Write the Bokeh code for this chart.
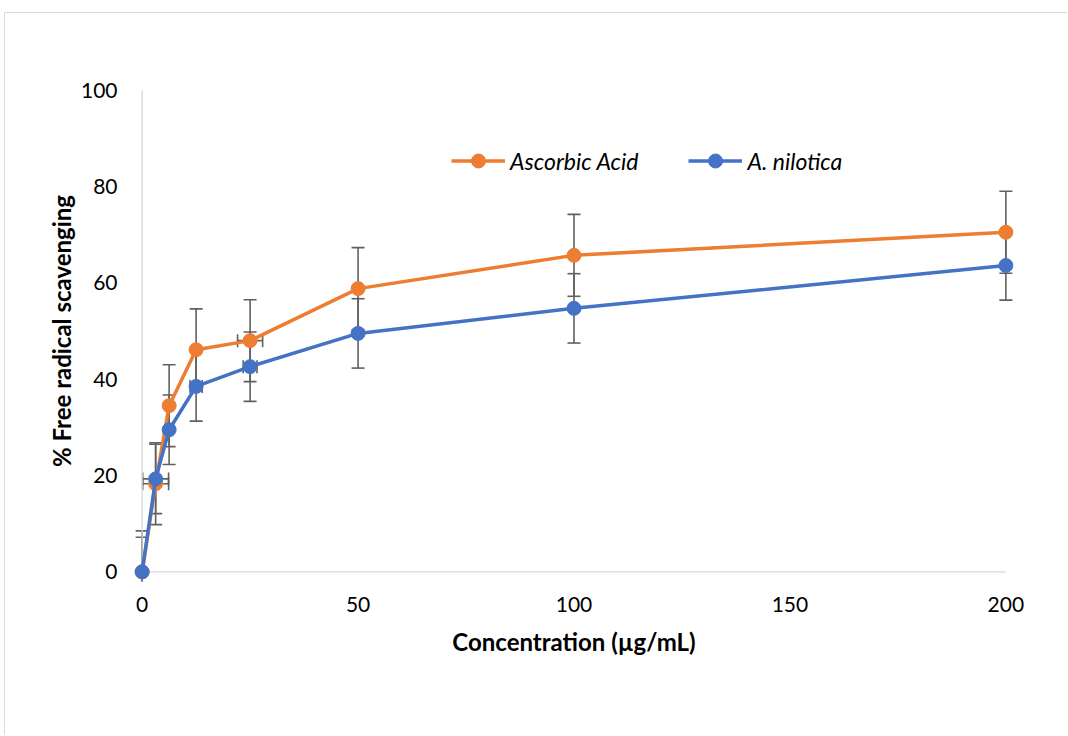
from bokeh.plotting import figure
from bokeh.models import Range1d, Whisker, ColumnDataSource, Legend, LegendItem, TeeHead, FixedTicker
from bokeh.embed import file_html
from bokeh.resources import INLINE

# ---- data ----
conc = [0, 3.125, 6.25, 12.5, 25, 50, 100, 200]
ascorbic = [0, 18.3, 34.5, 46.1, 48.0, 58.8, 65.7, 70.5]
nilotica = [0, 19.3, 29.5, 38.5, 42.6, 49.5, 54.7, 63.6]
ascorbic_err = [8.5, 8.5, 8.5, 8.5, 8.5, 8.5, 8.5, 8.5]
nilotica_err = [7.2, 7.2, 7.2, 7.2, 7.2, 7.2, 7.2, 7.2]
ascorbic_xerr = [0, 3.0, 0, 0, 2.9, 0, 0, 0]
nilotica_xerr = [0, 3.0, 0, 1.4, 1.6, 0, 0, 0]
x_ticks = [0, 50, 100, 150, 200]
y_ticks = [0, 20, 40, 60, 80, 100]
XMIN, XMAX = 0, 200
YMIN, YMAX = 0, 100

ORANGE = "#ED7D31"
BLUE = "#4472C4"
ERR = "#606060"
AXIS = "#D9D9D9"
FONT = "Lato"

p = figure(width=1063, height=723, output_backend="svg", toolbar_location=None,
           x_range=Range1d(XMIN - 2, XMAX + 2), y_range=Range1d(YMIN - 2, YMAX + 2),
           min_border_left=128, min_border_right=54, min_border_top=67, min_border_bottom=155)
p.margin = (12, 0, 0, 4)
p.styles = {"border-left": "1px solid #D9D9D9", "border-top": "1px solid #D9D9D9"}
p.outline_line_color = None
p.xgrid.visible = False
p.ygrid.visible = False

# axis lines at data zero
p.segment(x0=[XMIN, XMIN], y0=[YMIN, YMIN], x1=[XMIN, XMAX], y1=[YMAX, YMIN],
          line_color=AXIS, line_width=1.3)

for ax in (p.xaxis[0], p.yaxis[0]):
    ax.axis_line_color = None
    ax.major_tick_line_color = None
    ax.minor_tick_line_color = None
    ax.major_label_text_font = FONT
    ax.major_label_text_font_size = "21px"
    ax.major_label_text_color = "#000000"
    ax.axis_label_text_font = FONT
    ax.axis_label_text_font_size = "24px"
    ax.axis_label_text_font_style = "bold"
    ax.axis_label_text_color = "#000000"

p.xaxis.ticker = FixedTicker(ticks=x_ticks)
p.yaxis.ticker = FixedTicker(ticks=y_ticks)
p.xaxis.axis_label = "Concentration (µg/mL)"
p.yaxis.axis_label = "% Free radical scavenging"
p.xaxis.major_label_standoff = 9
p.yaxis.major_label_standoff = 10
p.xaxis.axis_label_standoff = 12
p.yaxis.axis_label_standoff = 2


def add_series(y, yerr, xerr, color):
    src = ColumnDataSource(dict(x=conc, y=y,
                                lo=[a - b for a, b in zip(y, yerr)],
                                hi=[a + b for a, b in zip(y, yerr)]))
    w = Whisker(source=src, base="x", lower="lo", upper="hi", dimension="height",
                line_color=ERR, line_width=1.6, level="underlay",
                upper_head=TeeHead(size=13, line_color=ERR, line_width=1.6),
                lower_head=TeeHead(size=13, line_color=ERR, line_width=1.6))
    p.add_layout(w)
    xs = [(c, v, e) for c, v, e in zip(conc, y, xerr) if e > 0]
    if xs:
        xsrc = ColumnDataSource(dict(y=[t[1] for t in xs],
                                     lo=[t[0] - t[2] for t in xs],
                                     hi=[t[0] + t[2] for t in xs]))
        wx = Whisker(source=xsrc, base="y", lower="lo", upper="hi", dimension="width",
                     line_color=ERR, line_width=1.6, level="underlay",
                     upper_head=TeeHead(size=13, line_color=ERR, line_width=1.6),
                     lower_head=TeeHead(size=13, line_color=ERR, line_width=1.6))
        p.add_layout(wx)
    ln = p.line(conc, y, line_color=color, line_width=3.5)
    sc = p.scatter(conc, y, size=14, fill_color=color, line_color=color)
    return [ln, sc]


r1 = add_series(ascorbic, ascorbic_err, ascorbic_xerr, ORANGE)
r2 = add_series(nilotica, nilotica_err, nilotica_xerr, BLUE)

legend = Legend(items=[LegendItem(label="Ascorbic Acid", renderers=r1),
                       LegendItem(label="A. nilotica", renderers=r2)],
                orientation="horizontal", location=(318, 403),
                padding=0, margin=0, spacing=50, label_standoff=5,
                glyph_width=54, glyph_height=35, label_height=35,
                label_text_font=FONT, label_text_font_size="23px",
                label_text_font_style="italic", label_text_color="#000000",
                border_line_color=None, background_fill_alpha=0)
p.add_layout(legend)

open("out.html", "w").write(file_html(p, INLINE))
